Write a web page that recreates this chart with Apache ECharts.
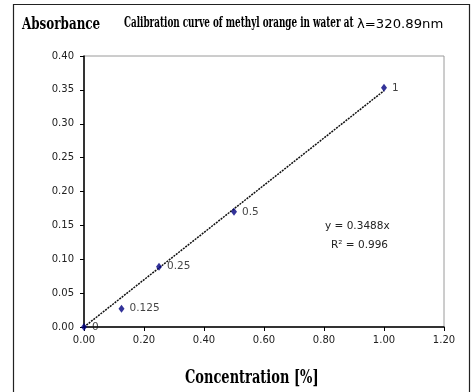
<!DOCTYPE html>
<html>
<head>
<meta charset="utf-8">
<script src="https://cdn.jsdelivr.net/npm/echarts@6/dist/echarts.min.js"></script>
<style>
  html, body { margin: 0; padding: 0; background: #fff; }
  #chart { width: 472px; height: 392px; }
</style>
</head>
<body>
<div id="chart"></div>
<script>
// Calibration measurements: concentration [%] vs absorbance
const concentration = [0, 0.125, 0.25, 0.5, 1];
const absorbance = [0, 0.027, 0.089, 0.170, 0.353];
const pointLabels = ['0', '0.125', '0.25', '0.5', '1'];

// Linear fit through origin
const slope = 0.3488;
const rSquared = 0.996;
const trendX = [0, 1];

const xTicks = { min: 0, max: 1.2, interval: 0.2 };
const yTicks = { min: 0, max: 0.4, interval: 0.05 };

const titleFont = '"DejaVu Serif Condensed", "Liberation Serif", serif';
const tickFont = '"DejaVu Sans", sans-serif';

const chart = echarts.init(document.getElementById('chart'), null, { renderer: 'canvas' });

const grid = { left: 84, right: 28, top: 56, bottom: 65 };

// Condensed heading text: drawn at full height, squeezed horizontally
function squeezed(text, x, y, size, sx, extra) {
  return {
    type: 'text', x: x, y: y, scaleX: sx, scaleY: 1,
    style: Object.assign({ text: text, fontFamily: titleFont, fontWeight: 'bold', fontSize: size, fill: '#000', textVerticalAlign: 'middle' }, extra || {})
  };
}

chart.setOption({
  animation: false,
  backgroundColor: '#fff',
  grid: Object.assign({ show: true, borderColor: '#9a9a9a', borderWidth: 1, backgroundColor: 'transparent' }, grid),
  xAxis: {
    type: 'value',
    min: xTicks.min, max: xTicks.max, interval: xTicks.interval,
    axisLine: { show: true, onZero: false, lineStyle: { color: '#000', width: 1.5 } },
    axisTick: { show: true, inside: false, length: 4, lineStyle: { color: '#000' } },
    splitLine: { show: false },
    axisLabel: { formatter: v => v.toFixed(2), color: '#222', fontFamily: tickFont, fontSize: 10, margin: 8 }
  },
  yAxis: {
    type: 'value',
    min: yTicks.min, max: yTicks.max, interval: yTicks.interval,
    axisLine: { show: true, onZero: false, lineStyle: { color: '#000', width: 1.5 } },
    axisTick: { show: true, inside: false, length: 4, lineStyle: { color: '#000' } },
    splitLine: { show: false },
    axisLabel: { formatter: v => v.toFixed(2), color: '#222', fontFamily: tickFont, fontSize: 10, margin: 10 }
  },
  series: [
    {
      name: 'Trend',
      type: 'line',
      data: trendX.map(x => [x, slope * x]),
      symbol: 'none',
      lineStyle: { color: '#111', width: 1.5, type: [2, 1] },
      z: 2
    },
    {
      name: 'Measured',
      type: 'scatter',
      data: concentration.map((x, i) => [x, absorbance[i]]),
      symbol: 'diamond',
      symbolSize: [6, 8],
      itemStyle: { color: '#00007f' },
      label: {
        show: true,
        position: 'right',
        distance: 5,
        formatter: p => pointLabels[p.dataIndex],
        color: '#111',
        fontFamily: tickFont,
        fontSize: 10.5
      },
      z: 3
    }
  ],
  graphic: [
    {
      type: 'rect',
      shape: { x: 13.5, y: 4.5, width: 456, height: 400 },
      style: { fill: 'none', stroke: '#222', lineWidth: 1.2 },
      z: 10
    },
    squeezed('Absorbance', 22, 25, 17, 0.78),
    squeezed('Calibration curve of methyl orange in water at', 124, 23, 14, 0.7),
    squeezed('λ=320.89nm', 357, 25, 12, 1.1, { fontWeight: 'normal', fontFamily: tickFont }),
    squeezed('Concentration [%]', 185, 378, 19, 0.76),
    {
      type: 'text', left: 325, top: 221,
      style: { text: 'y = ' + slope.toFixed(4) + 'x', fontFamily: tickFont, fontSize: 10.5, fill: '#222' }
    },
    {
      type: 'text', left: 331, top: 240,
      style: { text: 'R² = ' + rSquared.toFixed(3), fontFamily: tickFont, fontSize: 10.5, fill: '#222' }
    }
  ]
});
</script>
</body>
</html>
